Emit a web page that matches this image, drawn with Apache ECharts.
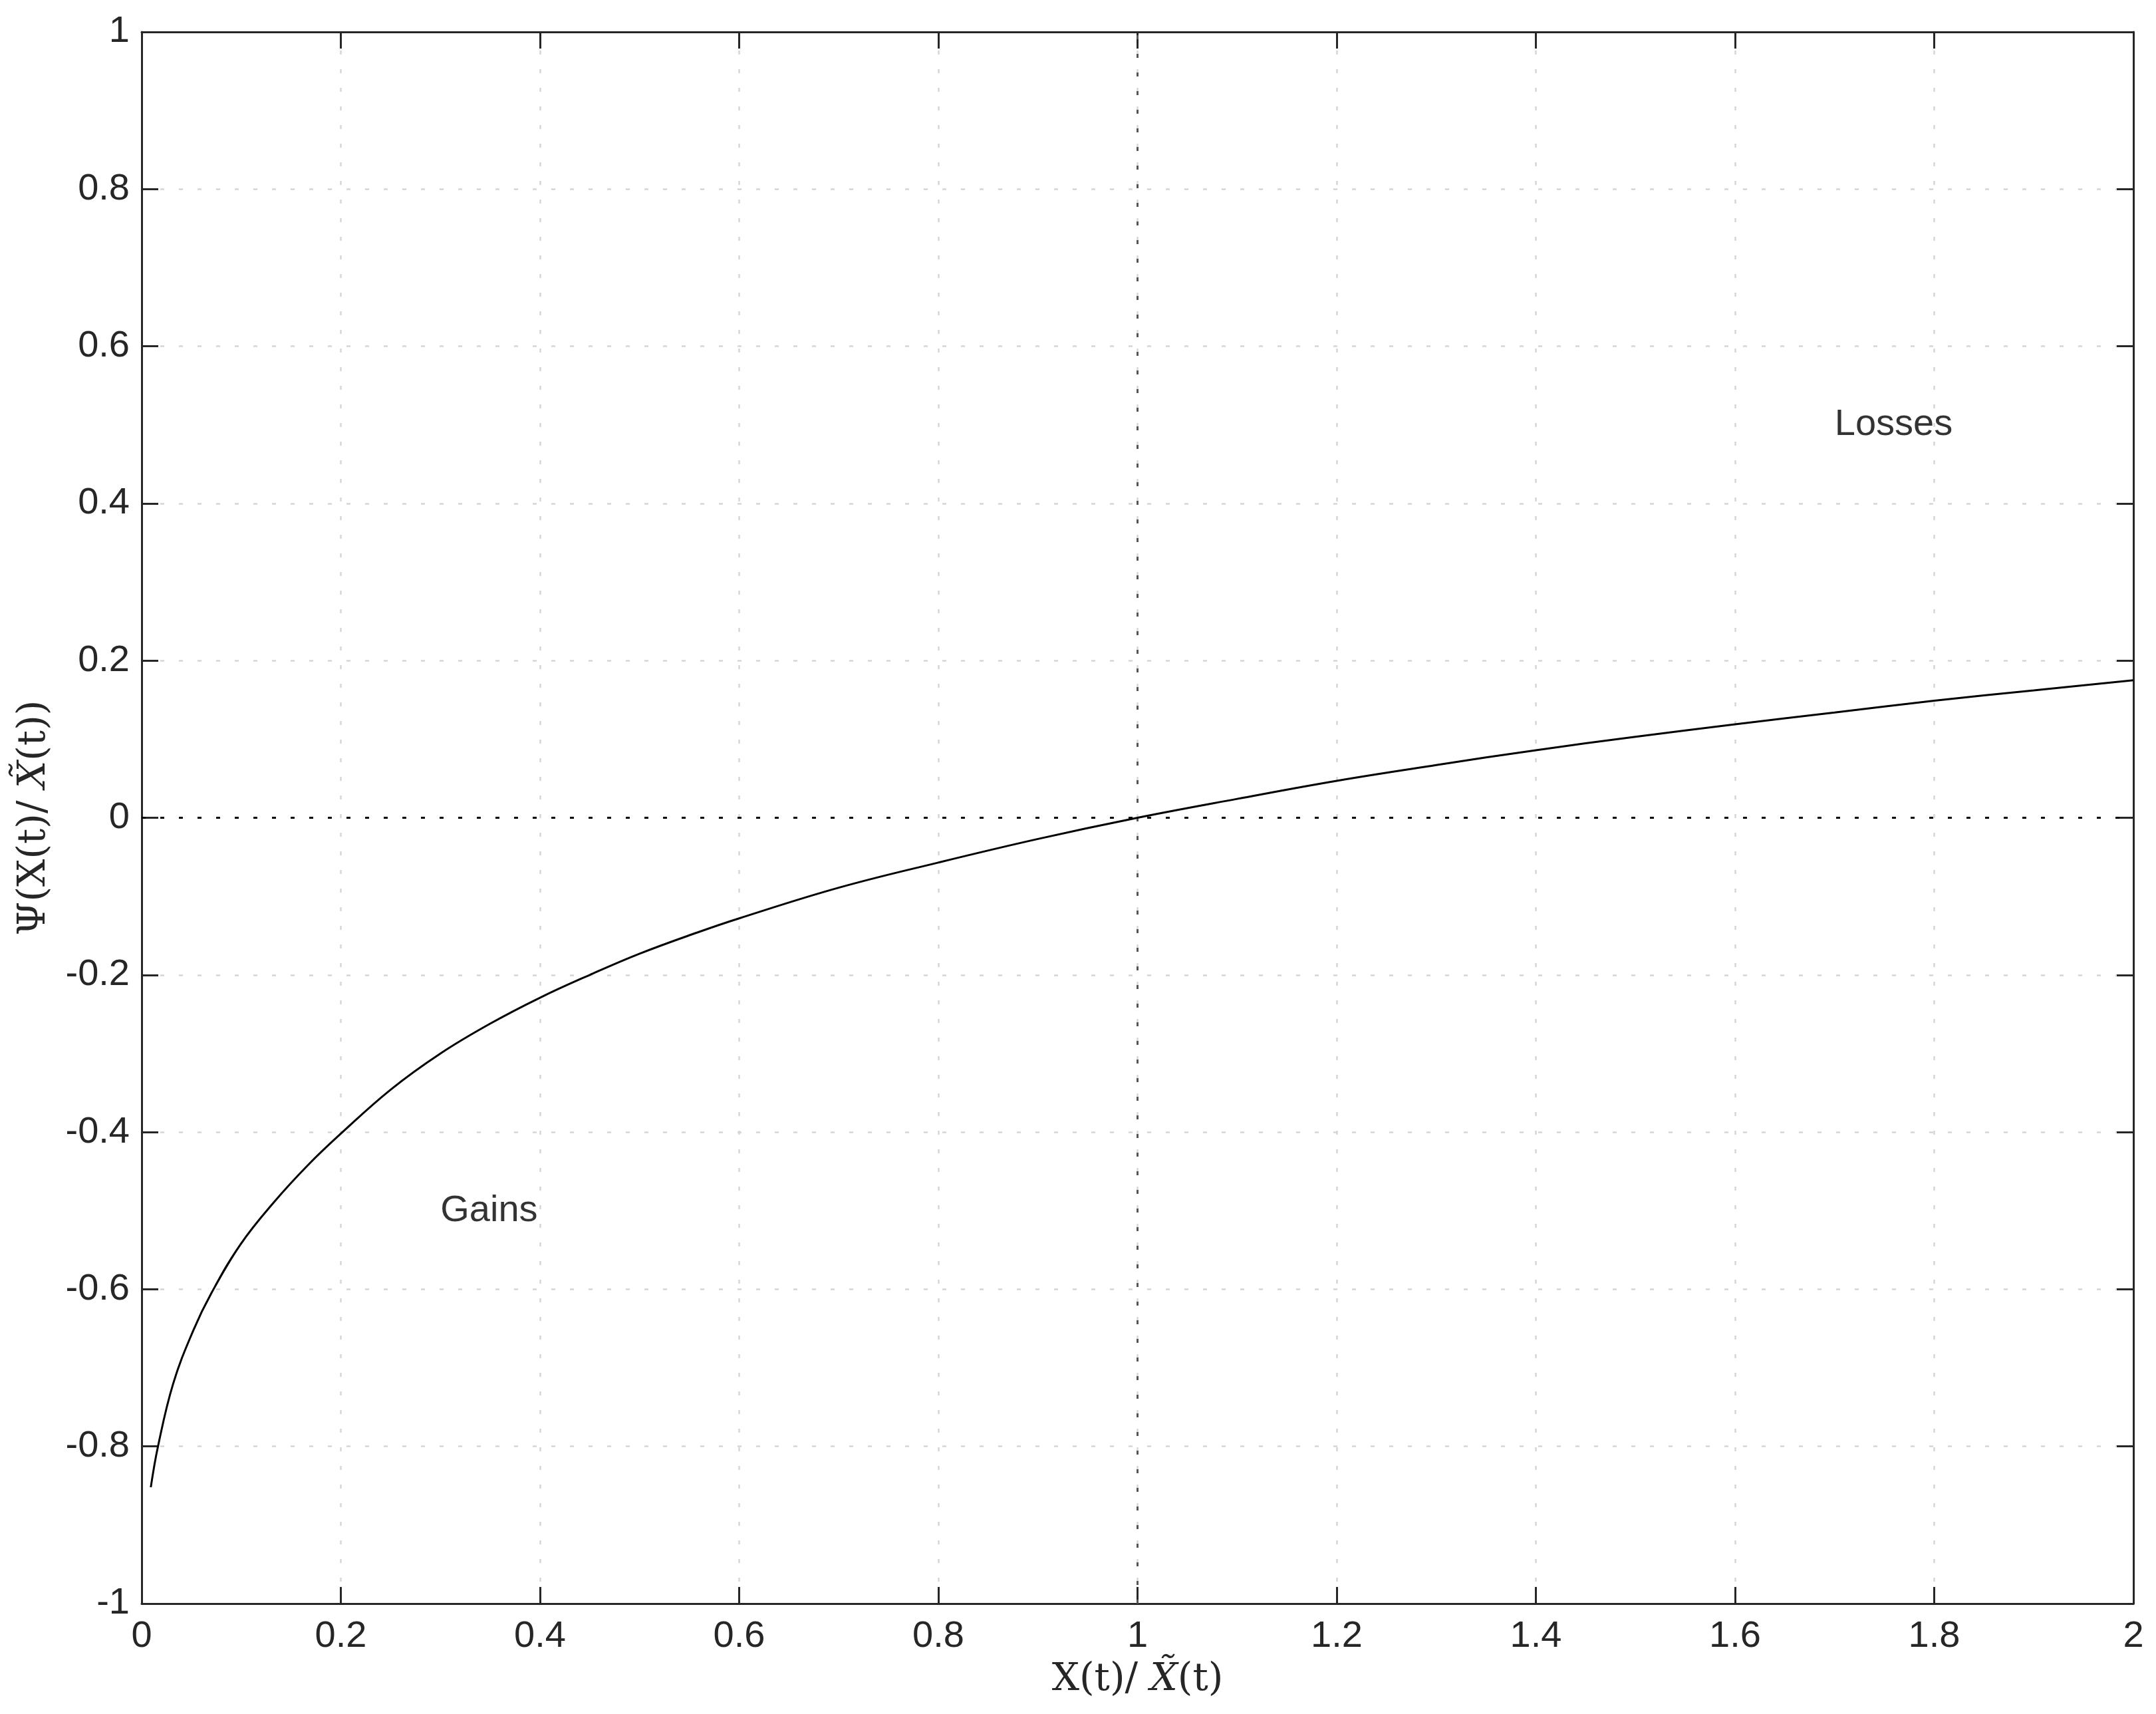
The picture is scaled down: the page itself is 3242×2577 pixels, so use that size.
<!DOCTYPE html>
<html>
<head>
<meta charset="utf-8">
<script src="https://cdn.jsdelivr.net/npm/echarts@6/dist/echarts.min.js"></script>
<style>
html,body{margin:0;padding:0;background:#fff;}
#chart{width:3242px;height:2577px;}
</style>
</head>
<body>
<div id="chart"></div>
<script>
// Curve Psi(X/X~)
const ratioX = [0.0092, 0.0164, 0.0317, 0.052, 0.07, 0.0992, 0.133, 0.167, 0.2, 0.25, 0.3, 0.35, 0.4, 0.45, 0.5, 0.558, 0.6, 0.7, 0.8, 0.9, 1.0, 1.1, 1.2, 1.3, 1.4, 1.5, 1.6, 1.7, 1.8, 1.9, 2.0];
const psiY   = [-0.852, -0.80, -0.72, -0.652, -0.605, -0.543, -0.489, -0.442, -0.402, -0.346, -0.300, -0.262, -0.229, -0.200, -0.173, -0.146, -0.128, -0.089, -0.057, -0.027, 0.0, 0.024, 0.047, 0.067, 0.086, 0.103, 0.119, 0.134, 0.149, 0.162, 0.175];

// Reference dotted lines
const zeroLineX = [0, 2];
const zeroLineY = [0, 0];
const unitLineX = [1, 1];
const unitLineY = [-1, 1];

// Annotations
const annotations = [
  { label: 'Losses', x: 1.7, y: 0.5 },
  { label: 'Gains', x: 0.3, y: -0.5 }
];

// Axis ranges / ticks
const xMin = 0, xMax = 2, xStep = 0.2;
const yMin = -1, yMax = 1, yStep = 0.2;

const zip = (a, b) => a.map((v, i) => [v, b[i]]);

const axisColor = '#262626';
const sansFont = '"Liberation Sans", Arial, Helvetica, sans-serif';
const serifFont = '"DejaVu Serif", "Liberation Serif", serif';

const gridLine = { show: true, lineStyle: { color: '#d6d6d6', width: 2.5, type: [6, 22] } };
const tickStyle = { show: true, inside: true, length: 25, lineStyle: { color: axisColor, width: 3 } };
const axisLine = { show: true, onZero: false, lineStyle: { color: axisColor, width: 3 } };

const chart = echarts.init(document.getElementById('chart'), null, { renderer: 'canvas' });

const titleRich = {
  r: { fontFamily: serifFont, fontSize: 58, color: axisColor },
  i: { fontFamily: serifFont, fontSize: 58, fontStyle: 'italic', color: axisColor }
};

chart.setOption({
  animation: false,
  backgroundColor: '#ffffff',
  grid: { left: 213, right: 34, top: 48, bottom: 166, containLabel: false },
  xAxis: [
    {
      type: 'value', min: xMin, max: xMax, interval: xStep, position: 'bottom',
      axisLine: axisLine, axisTick: tickStyle, splitLine: gridLine,
      axisLabel: { color: axisColor, fontFamily: sansFont, fontSize: 56, margin: 22 },
      name: '{r|X(t)/ }{i|X̃}{r|(t)}',
      nameLocation: 'middle', nameGap: 86,
      nameTextStyle: { rich: titleRich }
    },
    {
      type: 'value', min: xMin, max: xMax, interval: xStep, position: 'top',
      axisLine: axisLine, axisTick: tickStyle, splitLine: { show: false },
      axisLabel: { show: false }
    }
  ],
  yAxis: [
    {
      type: 'value', min: yMin, max: yMax, interval: yStep, position: 'left',
      axisLine: axisLine, axisTick: tickStyle, splitLine: gridLine,
      axisLabel: { color: axisColor, fontFamily: sansFont, fontSize: 56, margin: 18 },
      name: '{r|Ψ(X(t)/ }{i|X̃}{r|(t))}',
      nameLocation: 'middle', nameGap: 132, nameRotate: 90,
      nameTextStyle: { rich: titleRich }
    },
    {
      type: 'value', min: yMin, max: yMax, interval: yStep, position: 'right',
      axisLine: axisLine, axisTick: tickStyle, splitLine: { show: false },
      axisLabel: { show: false }
    }
  ],
  series: [
    {
      type: 'line', data: zip(zeroLineX, zeroLineY), showSymbol: false, silent: true, z: 3,
      lineStyle: { color: '#000000', width: 3, type: [6, 22] }
    },
    {
      type: 'line', data: zip(unitLineX, unitLineY), showSymbol: false, silent: true, z: 3,
      lineStyle: { color: '#555555', width: 3, type: [6, 22] }
    },
    {
      type: 'line', data: zip(ratioX, psiY), showSymbol: false, z: 4,
      smooth: 0.4,
      lineStyle: { color: '#000000', width: 3 }
    },
    {
      type: 'scatter', symbolSize: 0, silent: true, z: 5,
      data: annotations.map(a => ({ value: [a.x, a.y], name: a.label })),
      label: {
        show: true, position: 'right', distance: 0,
        formatter: p => p.name,
        color: '#000000', fontFamily: sansFont, fontSize: 56
      }
    }
  ]
});
</script>
</body>
</html>
